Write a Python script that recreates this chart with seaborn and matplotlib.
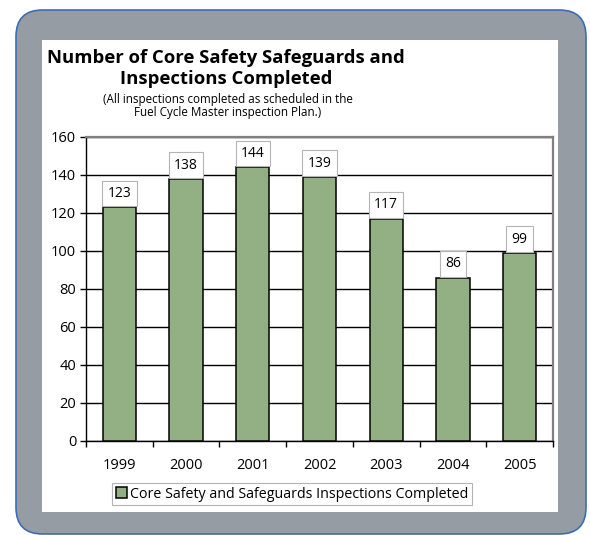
import matplotlib
matplotlib.use("Agg")
import matplotlib.pyplot as plt
from matplotlib.patches import FancyBboxPatch, Rectangle
import numpy as np
import pandas as pd
import seaborn as sns

# data
years = ["1999", "2000", "2001", "2002", "2003", "2004", "2005"]
inspections = [123, 138, 144, 139, 117, 86, 99]
series_name = "Core Safety and Safeguards Inspections Completed"

df = pd.DataFrame({"year": years, "count": inspections})

sns.set_theme(style="white")
plt.rcParams["font.family"] = ["Open Sans", "DejaVu Sans"]
plt.rcParams["text.color"] = "black"
plt.rcParams["xtick.color"] = "black"
plt.rcParams["ytick.color"] = "black"

W, H = 590, 535
fig = plt.figure(figsize=(W / 100, H / 100), dpi=100)
fig.patch.set_facecolor("white")

def fx(px):
    return px / W

def fy(py):
    return 1 - py / H

# gray rounded frame with blue border
frame = FancyBboxPatch((fx(16), fy(534)), fx(570), (524) / H,
                       boxstyle="round,pad=0,rounding_size=0.045",
                       transform=fig.transFigure, facecolor="#959ca4",
                       edgecolor="#3d6cb4", linewidth=1.2, zorder=0,
                       mutation_aspect=W / H)
fig.patches.append(frame)

# white chart panel
panel = Rectangle((fx(42), fy(512)), fx(558 - 42), (512 - 40) / H,
                  transform=fig.transFigure, facecolor="white",
                  edgecolor="none", zorder=1)
fig.patches.append(panel)

ax = fig.add_axes([fx(86), fy(441), fx(553 - 86), (441 - 137) / H])
ax.set_zorder(2)

sns.barplot(data=df, x="year", y="count", ax=ax, color="#93b085",
            saturation=1, width=0.5, edgecolor="black", linewidth=1.1,
            label=series_name, zorder=3)

ax.set_ylim(0, 160)
ax.set_yticks(np.arange(0, 161, 20))
ax.set_xlim(-0.5, len(years) - 0.5)
ax.set_xlabel("")
ax.set_ylabel("")
ax.yaxis.grid(True, color="black", linewidth=1.0, zorder=0)
ax.set_axisbelow(True)

for side in ["top", "right"]:
    ax.spines[side].set_color("#808080")
    ax.spines[side].set_linewidth(1.6)
for side in ["left", "bottom"]:
    ax.spines[side].set_color("black")
    ax.spines[side].set_linewidth(1.0)

ax.tick_params(axis="y", which="major", left=True, length=4, width=1,
               color="black", labelsize=10.5, pad=3, labelcolor="black")
ax.tick_params(axis="x", which="major", bottom=False, labelsize=10.5, pad=6,
               labelcolor="black")
ax.set_xticks(np.arange(-0.5, len(years), 1), minor=True)
ax.tick_params(axis="x", which="minor", bottom=True, length=4, width=1,
               color="black")

# value labels in small boxes, sitting on the bar tops
for i, v in enumerate(inspections):
    ax.annotate(str(v), (i, v), xytext=(0, 4.5), textcoords="offset points",
                ha="center", va="bottom", fontsize=10, color="black",
                bbox=dict(boxstyle="square,pad=0.38", facecolor="white",
                          edgecolor="#b4b4b4", linewidth=0.8),
                zorder=5)

leg = ax.legend(loc="center", bbox_to_anchor=(fx(292), fy(494)),
                bbox_transform=fig.transFigure, frameon=True, fontsize=10.3,
                handlelength=0.8, handleheight=0.8, handletextpad=0.2,
                borderpad=0.25, fancybox=False, borderaxespad=0)
leg.get_frame().set_edgecolor("#a0a0a0")
leg.get_frame().set_linewidth(0.8)
for t in leg.get_texts():
    t.set_color("black")

# titles
fig.text(fx(226), fy(58), "Number of Core Safety Safeguards and",
         ha="center", va="center", fontsize=13.3, fontweight="bold",
         color="black", zorder=3)
fig.text(fx(226), fy(79), "Inspections Completed",
         ha="center", va="center", fontsize=13.3, fontweight="bold",
         color="black", zorder=3)
fig.text(fx(228), fy(99), "(All inspections completed as scheduled in the",
         ha="center", va="center", fontsize=8.4, color="black", zorder=3)
fig.text(fx(228), fy(112), "Fuel Cycle Master inspection Plan.)",
         ha="center", va="center", fontsize=8.4, color="black", zorder=3)

fig.savefig("out.png", dpi=100)
